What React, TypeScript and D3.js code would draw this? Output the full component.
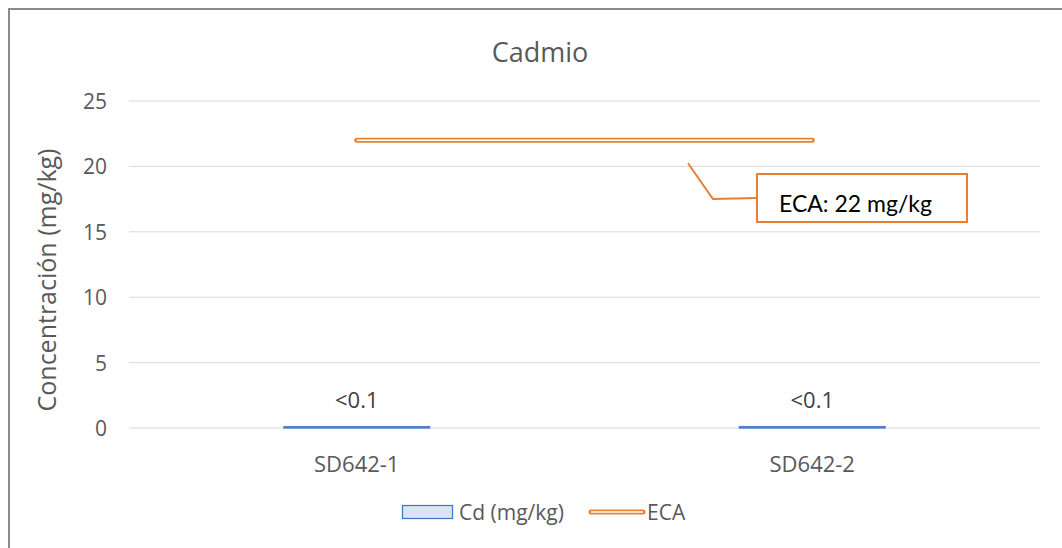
import React from "react";
import * as d3 from "d3";

const categories = ["SD642-1", "SD642-2"];
const cdValues = [0.1, 0.1];
const cdLabels = ["<0.1", "<0.1"];
const ecaValues = [22, 22];
const yTicks = [0, 5, 10, 15, 20, 25];
const title = "Cadmio";
const yTitle = "Concentración (mg/kg)";
const calloutText = "ECA: 22 mg/kg";

export default function App() {
  const W = 1062, H = 548;
  const left = 129, right = 1040, top = 101, bottom = 428;
  const x = d3.scaleBand<string>().domain(categories).range([left, right]).paddingInner(0.68).paddingOuter(0.34);
  const y = d3.scaleLinear().domain([0, 25]).range([bottom, top]);
  const xc = (c: string) => (x(c) as number) + x.bandwidth() / 2;
  const font = "'Open Sans', 'Noto Sans', sans-serif";
  const txt = "#595959";
  const ecaLine = d3.line<number>().x((_, i) => xc(categories[i])).y((d) => y(d));
  const ecaPath = ecaLine(ecaValues) as string;
  const callY = y(ecaValues[0]);
  return (
    <svg width={W} height={H} style={{ position: "absolute", left: 0, top: 0 }} fontFamily={font}>
      <rect x={0} y={0} width={W} height={H} fill="#fff" />
      <rect x={9} y={9} width={W + 20} height={H + 20} fill="none" stroke="#8c8c8c" strokeWidth={2} />
      <text x={540} y={62} textAnchor="middle" fontSize={27} fill={txt}>{title}</text>
      {yTicks.map((t) => (
        <g key={t}>
          <line x1={left} x2={right} y1={y(t)} y2={y(t)} stroke="#d9d9d9" strokeWidth={1} />
          <text x={107} y={y(t) + 8} textAnchor="end" fontSize={21} fill={txt}>{t}</text>
        </g>
      ))}
      <text transform={`translate(56,280) rotate(-90)`} textAnchor="middle" fontSize={25} fill={txt}>{yTitle}</text>
      {categories.map((c, i) => (
        <g key={c}>
          <rect x={x(c) as number} y={y(cdValues[i])} width={x.bandwidth()} height={Math.max(1, bottom - y(cdValues[i]))} fill="#dae3f3" stroke="#4472c4" strokeWidth={1.2} />
          <text x={xc(c)} y={408} textAnchor="middle" fontSize={22} fill="#404040">{cdLabels[i]}</text>
          <text x={xc(c)} y={472} textAnchor="middle" fontSize={22} fill={txt}>{c}</text>
        </g>
      ))}
      <path d={ecaPath} stroke="#ed7d31" strokeWidth={5} fill="none" strokeLinecap="round" />
      <path d={ecaPath} stroke="#fff" strokeWidth={1.6} fill="none" strokeLinecap="butt" />
      <polyline points={`688,${callY + 23} 713,199 757,198`} fill="none" stroke="#ed7d31" strokeWidth={2} />
      <rect x={757} y={174} width={210} height={48} fill="#fff" stroke="#ed7d31" strokeWidth={2} />
      <text x={779} y={212} fontSize={23} fill="#000" fontFamily="Lato, 'Open Sans', sans-serif">{calloutText}</text>
      <rect x={402.5} y={505.5} width={50} height={13} fill="#dae3f3" stroke="#4472c4" strokeWidth={1.2} />
      <text x={459} y={520} fontSize={21} fill={txt}>Cd (mg/kg)</text>
      <line x1={591} x2={643} y1={512} y2={512} stroke="#ed7d31" strokeWidth={5} strokeLinecap="round" />
      <line x1={591} x2={643} y1={512} y2={512} stroke="#fff" strokeWidth={1.6} />
      <text x={647} y={520} fontSize={21} fill={txt}>ECA</text>
    </svg>
  );
}
